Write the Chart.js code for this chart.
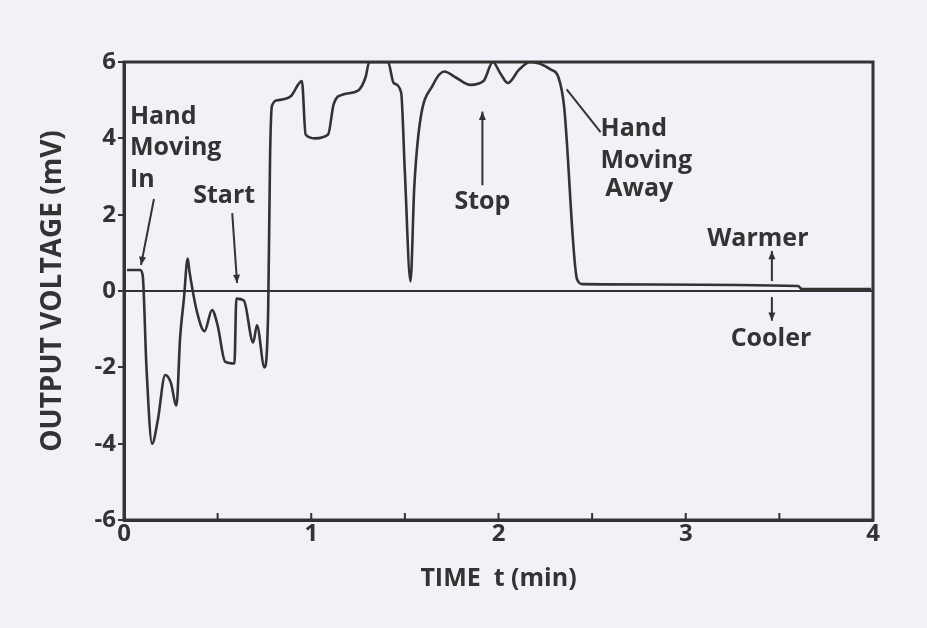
<!DOCTYPE html>
<html>
<head>
<meta charset="utf-8">
<script src="https://cdn.jsdelivr.net/npm/chart.js@4.4.1/dist/chart.umd.min.js"></script>
<style>
  html, body { margin: 0; padding: 0; background: #f1f2f7; }
  #wrap { width: 927px; height: 628px; }
</style>
</head>
<body>
<div id="wrap"><canvas id="c" width="927" height="628"></canvas></div>
<script>
// ---- data ----
const timeMin = [0.016, 0.086, 0.10, 0.12, 0.15, 0.18, 0.22, 0.25, 0.28, 0.30, 0.32, 0.34, 0.35, 0.39, 0.43, 0.47, 0.50, 0.54, 0.59, 0.60, 0.64, 0.69, 0.71, 0.75, 0.77, 0.78, 0.79, 0.82, 0.89, 0.95, 0.97, 1.02, 1.09, 1.12, 1.17, 1.25, 1.29, 1.31, 1.41, 1.44, 1.48, 1.50, 1.53, 1.55, 1.58, 1.65, 1.71, 1.77, 1.85, 1.92, 1.97, 2.01, 2.05, 2.11, 2.17, 2.28, 2.32, 2.35, 2.42, 2.45, 3.60, 3.62, 3.99];
const voltage = [0.55, 0.55, 0.4, -2.0, -4.0, -3.4, -2.2, -2.4, -3.0, -1.2, -0.2, 0.85, 0.5, -0.55, -1.05, -0.5, -0.9, -1.85, -1.9, -0.2, -0.25, -1.35, -0.9, -2.0, -0.5, 3.5, 4.85, 5.0, 5.1, 5.5, 4.1, 4.0, 4.1, 4.9, 5.15, 5.25, 5.6, 6.0, 6.0, 5.45, 5.2, 3.1, 0.25, 2.7, 4.4, 5.4, 5.75, 5.6, 5.4, 5.5, 6.0, 5.7, 5.45, 5.8, 6.0, 5.8, 5.6, 4.85, 0.3, 0.18, 0.13, 0.05, 0.05];
const xTicks = [0, 1, 2, 3, 4];
const yTicks = [-6, -4, -2, 0, 2, 4, 6];
const xTitle = 'TIME  t (min)';
const yTitle = 'OUTPUT VOLTAGE (mV)';

const points = timeMin.map((t, i) => ({ x: t, y: voltage[i] }));
const INK = '#333333';
const FONT = '"Open Sans", "DejaVu Sans", sans-serif';

// annotations in data units
const notes = [
  { text: 'Hand', t: 0.032, v: 4.55, align: 'left' },
  { text: 'Moving', t: 0.032, v: 3.74, align: 'left' },
  { text: 'In', t: 0.032, v: 2.9, align: 'left' },
  { text: 'Start', t: 0.535, v: 2.48, align: 'center' },
  { text: 'Stop', t: 1.914, v: 2.33, align: 'center' },
  { text: 'Hand', t: 2.545, v: 4.24, align: 'left' },
  { text: 'Moving', t: 2.545, v: 3.42, align: 'left' },
  { text: 'Away', t: 2.57, v: 2.67, align: 'left' },
  { text: 'Warmer', t: 3.385, v: 1.36, align: 'center' },
  { text: 'Cooler', t: 3.455, v: -1.25, align: 'center' }
];
const arrows = [
  { t1: 0.16, v1: 2.41, t2: 0.091, v2: 0.68, head: true },
  { t1: 0.578, v1: 2.04, t2: 0.604, v2: 0.21, head: true },
  { t1: 1.914, v1: 2.77, t2: 1.914, v2: 4.7, head: true },
  { t1: 2.545, v1: 4.16, t2: 2.364, v2: 5.28, head: false },
  { t1: 3.46, v1: 0.26, t2: 3.46, v2: 1.05, head: true },
  { t1: 3.46, v1: -0.16, t2: 3.46, v2: -0.78, head: true }
];

const decor = {
  id: 'decor',
  afterDatasetsDraw(chart) {
    const { ctx, chartArea: a, scales: { x, y } } = chart;
    ctx.save();
    // frame
    ctx.strokeStyle = INK;
    ctx.lineWidth = 3;
    ctx.strokeRect(a.left, a.top, a.right - a.left, a.bottom - a.top);
    // inward minor ticks on x axis
    ctx.lineWidth = 2;
    for (let t = 0.5; t < 4; t += 0.5) {
      const px = x.getPixelForValue(t);
      ctx.beginPath();
      ctx.moveTo(px, a.bottom);
      ctx.lineTo(px, a.bottom - 7);
      ctx.stroke();
    }
    // arrows
    ctx.lineWidth = 2;
    arrows.forEach(ar => {
      const x1 = x.getPixelForValue(ar.t1), y1 = y.getPixelForValue(ar.v1);
      const x2 = x.getPixelForValue(ar.t2), y2 = y.getPixelForValue(ar.v2);
      ctx.beginPath();
      ctx.moveTo(x1, y1);
      ctx.lineTo(x2, y2);
      ctx.stroke();
      if (ar.head) {
        const ang = Math.atan2(y2 - y1, x2 - x1);
        const L = 9, w = 0.4;
        ctx.beginPath();
        ctx.moveTo(x2, y2);
        ctx.lineTo(x2 - L * Math.cos(ang - w), y2 - L * Math.sin(ang - w));
        ctx.lineTo(x2 - L * Math.cos(ang + w), y2 - L * Math.sin(ang + w));
        ctx.closePath();
        ctx.fillStyle = INK;
        ctx.fill();
      }
    });
    // texts
    ctx.fillStyle = INK;
    ctx.font = 'bold 25px ' + FONT;
    ctx.textBaseline = 'middle';
    notes.forEach(n => {
      ctx.textAlign = n.align;
      ctx.fillText(n.text, x.getPixelForValue(n.t), y.getPixelForValue(n.v));
    });
    ctx.restore();
  }
};

new Chart(document.getElementById('c'), {
  type: 'line',
  data: {
    datasets: [{
      data: points,
      borderColor: INK,
      borderWidth: 2.6,
      pointRadius: 0,
      fill: false,
      cubicInterpolationMode: 'monotone'
    }]
  },
  options: {
    responsive: false,
    animation: false,
    layout: { padding: { top: 62, right: 54, left: 0, bottom: 0 } },
    plugins: { legend: { display: false }, tooltip: { enabled: false } },
    scales: {
      x: {
        type: 'linear',
        min: 0, max: 4,
        afterFit(s) { s.height = 108; },
        afterBuildTicks(s) { s.ticks = xTicks.map(v => ({ value: v })); },
        ticks: {
          color: INK,
          font: { family: FONT, size: 24, weight: 'bold' },
          padding: 0,
          maxRotation: 0,
          autoSkip: false
        },
        grid: { drawOnChartArea: false, drawTicks: false },
        border: { color: INK, width: 3 },
        title: {
          display: true,
          text: xTitle,
          color: INK,
          font: { family: FONT, size: 25, weight: 'bold' },
          padding: { top: 0, bottom: 34 }
        }
      },
      y: {
        min: -6, max: 6,
        afterFit(s) { s.width = 124; },
        afterBuildTicks(s) { s.ticks = yTicks.map(v => ({ value: v })); },
        ticks: {
          color: INK,
          font: { family: FONT, size: 24, weight: 'bold' },
          padding: 2
        },
        grid: {
          drawOnChartArea: true,
          tickLength: 6,
          lineWidth: 2,
          color: c => (c.tick && c.tick.value === 0) ? INK : 'rgba(0,0,0,0)',
          tickColor: INK
        },
        border: { color: INK, width: 3 },
        title: {
          display: true,
          text: yTitle,
          color: INK,
          font: { family: FONT, size: 28, weight: 'bold' },
          padding: { top: 36, bottom: 0 }
        }
      }
    }
  },
  plugins: [decor]
});
</script>
</body>
</html>
